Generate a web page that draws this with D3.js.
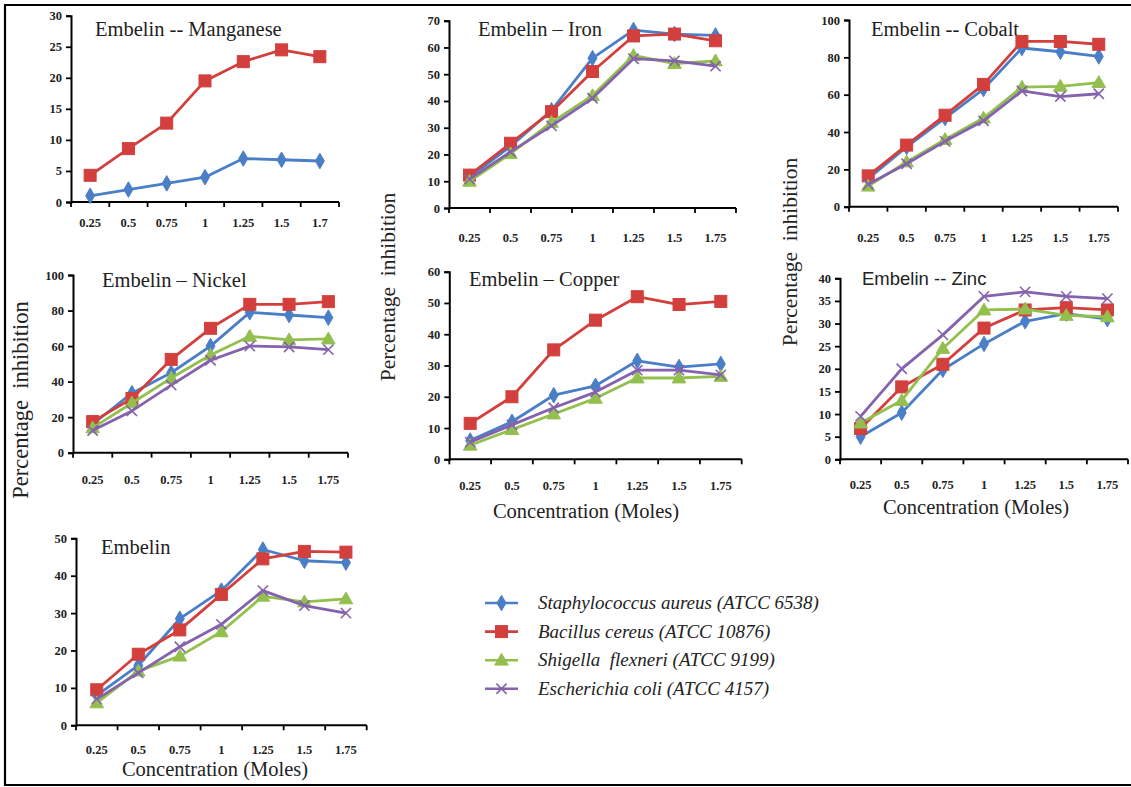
<!DOCTYPE html>
<html><head><meta charset="utf-8">
<script src="https://cdn.jsdelivr.net/npm/d3@7/dist/d3.min.js"></script>
<style>
html,body{margin:0;padding:0;background:#fff;}
svg{display:block;}
.tick text{font-family:"Liberation Serif","Times New Roman",serif;font-weight:bold;font-size:12.5px;fill:#222;}
</style></head>
<body>
<svg id="chart" width="1131" height="787"></svg>
<script>
// ---------------- data ----------------
const categories = ["0.25","0.5","0.75","1","1.25","1.5","1.75"];
const manganeseLabels = ["0.25","0.5","0.75","1","1.25","1.5","1.7"];

const seriesNames = [
  "Staphylococcus aureus (ATCC 6538)",
  "Bacillus cereus (ATCC 10876)",
  "Shigella  flexneri (ATCC 9199)",
  "Escherichia coli (ATCC 4157)"
];

const manganeseSA = [1, 2, 3, 4, 7, 6.8, 6.6];
const manganeseBC = [4.3, 8.6, 12.7, 19.5, 22.6, 24.5, 23.4];

const ironSA = [11.5, 23, 36.5, 56, 66.5, 65, 64.5];
const ironBC = [12.3, 24.2, 36, 51, 64.3, 65, 62.5];
const ironSF = [10, 20.3, 32, 42, 57, 54, 55];
const ironEC = [10.8, 21, 30.7, 41, 55.8, 55, 53];

const cobaltSA = [15, 32, 47.5, 63, 85, 83, 80.5];
const cobaltBC = [16.5, 33, 49, 65.5, 88.5, 88.5, 87];
const cobaltSF = [11, 24, 36, 47.5, 64, 64.5, 66.5];
const cobaltEC = [12, 23, 35, 46, 62, 59, 60.5];

const nickelSA = [16, 33.5, 45, 60, 79, 77.5, 76];
const nickelBC = [17.5, 30.5, 52.5, 70, 83.5, 83.5, 85];
const nickelSF = [14, 28, 42, 55, 65.5, 63.5, 64];
const nickelEC = [12.5, 23.5, 38, 52, 60, 59.5, 58];

const copperSA = [6, 12, 20.5, 23.5, 31.5, 29.5, 30.5];
const copperBC = [11.5, 20, 35, 44.5, 52, 49.5, 50.5];
const copperSF = [4.5, 9.5, 14.5, 19.5, 26, 26, 26.5];
const copperEC = [5.5, 11, 16.5, 21.5, 28.5, 28.5, 27];

const zincSA = [5, 10.3, 19.8, 25.5, 30.5, 32.2, 31];
const zincBC = [6.8, 16, 21, 29, 33, 33.5, 33];
const zincSF = [8, 13, 24.5, 33, 33.2, 31.8, 31.5];
const zincEC = [9.5, 20, 27.5, 36, 37, 36, 35.5];

const embelinSA = [8, 16, 28.5, 36, 47, 44, 43.5];
const embelinBC = [9.5, 19, 25.5, 35, 44.5, 46.5, 46.3];
const embelinSF = [6, 14.5, 18.5, 25, 34.5, 33, 33.8];
const embelinEC = [7, 14, 21, 27, 36, 32, 30];

const titles = ["Embelin -- Manganese","Embelin \u2013 Iron","Embelin -- Cobalt",
                "Embelin \u2013 Nickel","Embelin \u2013 Copper","Embelin -- Zinc","Embelin"];
const yTicksMn = [0,5,10,15,20,25,30];
const yTicksFe = [0,10,20,30,40,50,60,70];
const yTicksCo = [0,20,40,60,80,100];
const yTicksNi = [0,20,40,60,80,100];
const yTicksCu = [0,10,20,30,40,50,60];
const yTicksZn = [0,5,10,15,20,25,30,35,40];
const yTicksEm = [0,10,20,30,40,50];

// ---------------- styles ----------------
const colors = ["#4a7fc8","#d23f3d","#93bf4e","#8462ad"];
const markers = ["diamond","square","triangle","x"];
const serif = "'Liberation Serif','Times New Roman',serif";

const panels = [
  {title:titles[0], labels:manganeseLabels, series:[manganeseSA, manganeseBC], yt:yTicksMn,
   x0:71, x1:339, yTop:15.7, yBot:202, tx:95, ty:36, lab:22},
  {title:titles[1], labels:categories, series:[ironSA, ironBC, ironSF, ironEC], yt:yTicksFe,
   x0:449, x1:736, yTop:20.7, yBot:208, tx:478, ty:36, lab:31},
  {title:titles[2], labels:categories, series:[cobaltSA, cobaltBC, cobaltSF, cobaltEC], yt:yTicksCo,
   x0:849, x1:1118, yTop:20, yBot:206.7, tx:871, ty:36, lab:32},
  {title:titles[3], labels:categories, series:[nickelSA, nickelBC, nickelSF, nickelEC], yt:yTicksNi,
   x0:73, x1:348, yTop:275, yBot:452.7, tx:102, ty:287, lab:28},
  {title:titles[4], labels:categories, series:[copperSA, copperBC, copperSF, copperEC], yt:yTicksCu,
   x0:449.3, x1:741.7, yTop:271.7, yBot:459.3, tx:469, ty:286, lab:28},
  {title:titles[5], labels:categories, series:[zincSA, zincBC, zincSF, zincEC], yt:yTicksZn,
   x0:840, x1:1128, yTop:278.3, yBot:459.3, tx:862, ty:285, lab:27, sans:true},
  {title:titles[6], labels:categories, series:[embelinSA, embelinBC, embelinSF, embelinEC], yt:yTicksEm,
   x0:76, x1:366.7, yTop:538.3, yBot:725.3, tx:101, ty:554, lab:26}
];

const svg = d3.select("#chart");
svg.append("rect").attr("width",1131).attr("height",787).attr("fill","#fff");
// frame (top, left, bottom)
svg.append("path").attr("d","M1131,5 H5 V785 H1131").attr("fill","none").attr("stroke","#000").attr("stroke-width",2.2);

function drawMarker(g, type, color, cx, cy) {
  if (type === "diamond") {
    g.append("path").attr("d", d3.symbol(d3.symbolDiamond, 70)()).attr("transform",`translate(${cx},${cy})`)
      .attr("fill",color).attr("stroke",color).attr("stroke-width",1);
  } else if (type === "square") {
    g.append("rect").attr("x",cx-6).attr("y",cy-6).attr("width",12).attr("height",12)
      .attr("fill",color).attr("stroke",color).attr("stroke-width",1);
  } else if (type === "triangle") {
    g.append("path").attr("d", d3.symbol(d3.symbolTriangle, 80)()).attr("transform",`translate(${cx},${cy+1})`)
      .attr("fill",color).attr("stroke",color).attr("stroke-width",1);
  } else {
    g.append("path").attr("d", d3.symbol(d3.symbolX, 70)()).attr("transform",`translate(${cx},${cy})`)
      .attr("fill","none").attr("stroke",color).attr("stroke-width",1.6);
  }
}

panels.forEach(p => {
  const g = svg.append("g");
  const x = d3.scaleBand().domain(p.labels).range([p.x0, p.x1]).padding(0);
  const ymax = p.yt[p.yt.length-1];
  const y = d3.scaleLinear().domain([0, ymax]).range([p.yBot, p.yTop]);

  // y axis
  const ya = g.append("g").attr("transform",`translate(${p.x0},0)`)
    .call(d3.axisLeft(y).tickValues(p.yt).tickSize(5).tickPadding(4).tickFormat(d3.format("d")));
  ya.select(".domain").attr("stroke","#000").attr("stroke-width",2);
  ya.selectAll(".tick line").attr("stroke","#000").attr("stroke-width",1.8);

  // x axis: labels at band centres, ticks at band boundaries
  const xa = g.append("g").attr("transform",`translate(0,${p.yBot})`)
    .call(d3.axisBottom(x).tickSize(0).tickPadding(p.lab - 6));
  xa.select(".domain").remove();
  g.append("line").attr("x1",p.x0).attr("x2",p.x1).attr("y1",p.yBot).attr("y2",p.yBot)
    .attr("stroke","#000").attr("stroke-width",2);
  const bounds = p.labels.map(c => x(c)).concat([p.x1]);
  g.selectAll(".btick").data(bounds).enter().append("line")
    .attr("x1",d=>d).attr("x2",d=>d).attr("y1",p.yBot).attr("y2",p.yBot+5)
    .attr("stroke","#000").attr("stroke-width",1.8);

  // title
  g.append("text").attr("x",p.tx).attr("y",p.ty).text(p.title)
    .attr("font-family", p.sans ? "'Liberation Sans',Arial,sans-serif" : serif)
    .attr("font-size", p.sans ? 18.5 : 20.5).attr("fill","#222");

  // series
  const line = d3.line().x((d,i)=>x(p.labels[i]) + x.bandwidth()/2).y(d=>y(d));
  p.series.forEach((s, si) => {
    g.append("path").datum(s).attr("d", line).attr("fill","none")
      .attr("stroke", colors[si]).attr("stroke-width", 2.8).attr("stroke-linejoin","round");
    s.forEach((v,i) => drawMarker(g, markers[si], colors[si], x(p.labels[i]) + x.bandwidth()/2, y(v)));
  });
});

// axis titles
function vtitle(cx, cy, fs) {
  svg.append("text").attr("transform",`translate(${cx},${cy}) rotate(-90)`).attr("text-anchor","middle")
    .attr("font-family",serif).attr("font-size",fs).attr("fill","#222").attr("xml:space","preserve")
    .text("Percentage  inhibition");
}
vtitle(28, 400, 22.5);
vtitle(395, 287, 21.5);
vtitle(797, 252, 21.5);

function htitle(cx, cy) {
  svg.append("text").attr("x",cx).attr("y",cy).attr("text-anchor","middle")
    .attr("font-family",serif).attr("font-size",20.5).attr("fill","#222")
    .text("Concentration (Moles)");
}
htitle(586, 518);
htitle(976, 514);
htitle(215, 776);

// legend
const lg = svg.append("g");
seriesNames.forEach((n, i) => {
  const yy = 603 + i * 28.6;
  lg.append("line").attr("x1",485).attr("x2",518).attr("y1",yy).attr("y2",yy)
    .attr("stroke",colors[i]).attr("stroke-width",2.6);
  drawMarker(lg, markers[i], colors[i], 501.5, yy);
  lg.append("text").attr("x",538).attr("y",yy+6).attr("xml:space","preserve")
    .attr("font-family",serif).attr("font-style","italic").attr("font-size",19).attr("fill","#222")
    .text(n);
});
</script>
</body></html>
